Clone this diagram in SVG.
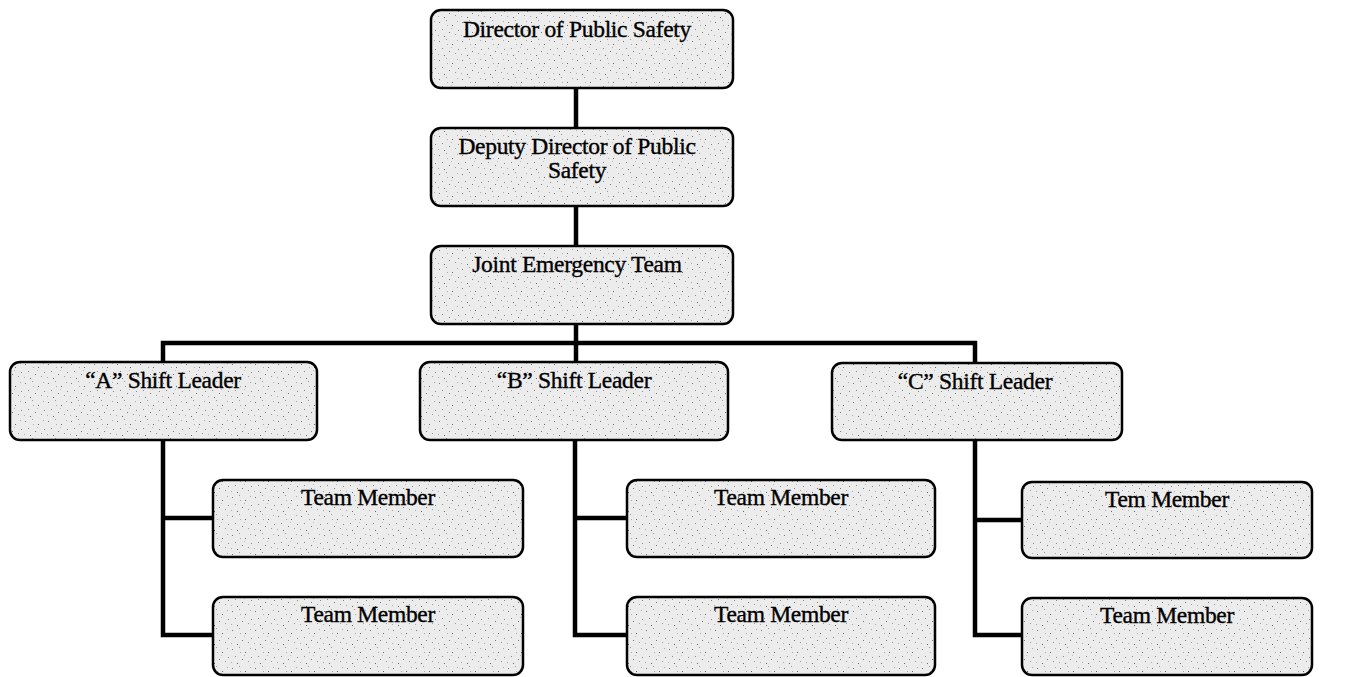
<svg xmlns="http://www.w3.org/2000/svg" width="1357" height="677" viewBox="0 0 1357 677">
  <defs>
    <!-- speckled grey fill used by every box -->
    <pattern id="speckle" width="23" height="19" patternUnits="userSpaceOnUse">
      <rect width="23" height="19" fill="#ececec"/>
      <rect x="2" y="3" width="1" height="1" fill="#777"/>
      <rect x="9" y="1" width="1" height="1" fill="#999"/>
      <rect x="15" y="6" width="1" height="1" fill="#666"/>
      <rect x="20" y="2" width="1" height="1" fill="#aaa"/>
      <rect x="5" y="10" width="1" height="1" fill="#888"/>
      <rect x="12" y="13" width="1" height="1" fill="#777"/>
      <rect x="18" y="15" width="1" height="1" fill="#999"/>
      <rect x="1" y="16" width="1" height="1" fill="#aaa"/>
      <rect x="7" y="17" width="1" height="1" fill="#666"/>
      <rect x="21" y="11" width="1" height="1" fill="#888"/>
      <rect x="14" y="9" width="1" height="1" fill="#bbb"/>
      <rect x="10" y="6" width="1" height="1" fill="#aaa"/>
    </pattern>
  </defs>
  <style>
    .box { fill: url(#speckle); stroke: #000; stroke-width: 2.5; }
    .lbl { font-family: "Liberation Serif", "Times New Roman", serif; font-size: 23.5px; fill: #000; stroke: #000; stroke-width: 0.35; text-anchor: middle; letter-spacing: -0.3px; }
    .link { fill: none; stroke: #000; stroke-width: 4.5; stroke-linejoin: miter; }
  </style>
  <rect width="1357" height="677" fill="#fff"/>

  <!-- connectors -->
  <g id="connectors">
    <line class="link" x1="576" y1="88" x2="576" y2="128"/>
    <line class="link" x1="576" y1="206" x2="576" y2="246"/>
    <line class="link" x1="576" y1="324" x2="576" y2="343"/>
    <polyline class="link" points="163,362 163,343 975,343 975,362"/>
    <line class="link" x1="576" y1="343" x2="576" y2="362"/>
    <polyline class="link" points="163,440 163,635 213,635"/>
    <line class="link" x1="163" y1="518" x2="213" y2="518"/>
    <polyline class="link" points="575,440 575,635 627,635"/>
    <line class="link" x1="575" y1="518" x2="627" y2="518"/>
    <polyline class="link" points="975,440 975,635 1022,635"/>
    <line class="link" x1="975" y1="520" x2="1022" y2="520"/>
  </g>

  <g id="director">
    <rect class="box" x="431" y="10" width="302" height="78" rx="10"/>
    <text class="lbl" x="577" y="37">Director of Public Safety</text>
  </g>
  <g id="deputy">
    <rect class="box" x="431" y="128" width="302" height="78" rx="10"/>
    <text class="lbl" x="577" y="154">Deputy Director of Public</text>
    <text class="lbl" x="577" y="178">Safety</text>
  </g>
  <g id="joint-team">
    <rect class="box" x="431" y="246" width="302" height="78" rx="10"/>
    <text class="lbl" x="577" y="272">Joint Emergency Team</text>
  </g>

  <g id="shift-a">
    <rect class="box" x="10" y="362" width="307" height="78" rx="10"/>
    <text class="lbl" x="163" y="388">“A” Shift Leader</text>
  </g>
  <g id="shift-b">
    <rect class="box" x="420" y="362" width="308" height="78" rx="10"/>
    <text class="lbl" x="574" y="388">“B” Shift Leader</text>
  </g>
  <g id="shift-c">
    <rect class="box" x="832" y="363" width="290" height="77" rx="10"/>
    <text class="lbl" x="975" y="389">“C” Shift Leader</text>
  </g>

  <g id="member-a1">
    <rect class="box" x="213" y="480" width="310" height="77" rx="10"/>
    <text class="lbl" x="368" y="505">Team Member</text>
  </g>
  <g id="member-a2">
    <rect class="box" x="213" y="597" width="310" height="78" rx="10"/>
    <text class="lbl" x="368" y="622">Team Member</text>
  </g>
  <g id="member-b1">
    <rect class="box" x="627" y="480" width="308" height="77" rx="10"/>
    <text class="lbl" x="781" y="505">Team Member</text>
  </g>
  <g id="member-b2">
    <rect class="box" x="627" y="597" width="308" height="78" rx="10"/>
    <text class="lbl" x="781" y="622">Team Member</text>
  </g>
  <g id="member-c1">
    <rect class="box" x="1022" y="482" width="290" height="76" rx="10"/>
    <text class="lbl" x="1167" y="507">Tem Member</text>
  </g>
  <g id="member-c2">
    <rect class="box" x="1022" y="598" width="290" height="77" rx="10"/>
    <text class="lbl" x="1167" y="623">Team Member</text>
  </g>
</svg>
